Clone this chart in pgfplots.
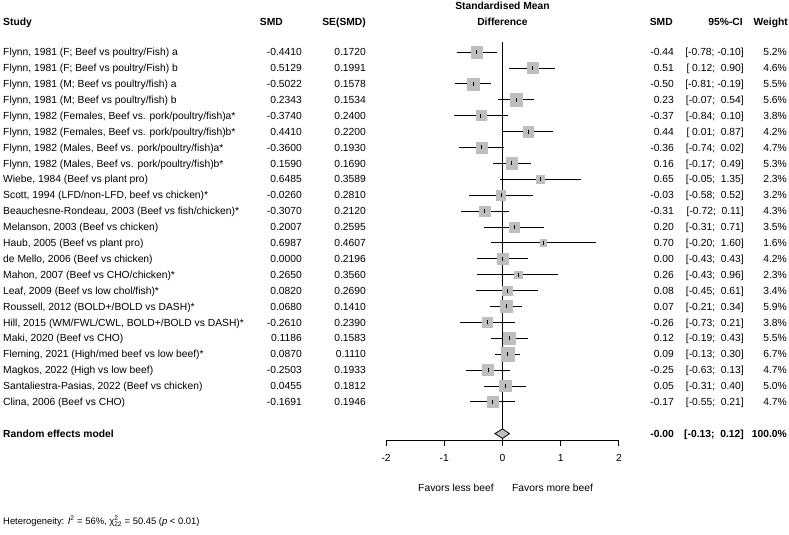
\documentclass[border=0pt]{standalone}
\usepackage{fontspec}
\setmainfont{Liberation Sans}
\usepackage{pgfplots}
\usepackage{pgfplotstable}
\pgfplotsset{compat=1.18}
\definecolor{boxgray}{RGB}{190,190,190}
\newcommand{\fs}{\fontsize{10.3bp}{12bp}\selectfont}
\newcommand{\fh}{\fontsize{9.4bp}{11bp}\selectfont}

\pgfplotstableread{
row smd lo hi w
1 -0.4410 -0.78 -0.10 5.2
2 0.5129 0.12 0.90 4.6
3 -0.5022 -0.81 -0.19 5.5
4 0.2343 -0.07 0.54 5.6
5 -0.3740 -0.84 0.10 3.8
6 0.4410 0.01 0.87 4.2
7 -0.3600 -0.74 0.02 4.7
8 0.1590 -0.17 0.49 5.3
9 0.6485 -0.05 1.35 2.3
10 -0.0260 -0.58 0.52 3.2
11 -0.3070 -0.72 0.11 4.3
12 0.2007 -0.31 0.71 3.5
13 0.6987 -0.20 1.60 1.6
14 0.0000 -0.43 0.43 4.2
15 0.2650 -0.43 0.96 2.3
16 0.0820 -0.45 0.61 3.4
17 0.0680 -0.21 0.34 5.9
18 -0.2610 -0.73 0.21 3.8
19 0.1186 -0.19 0.43 5.5
20 0.0870 -0.13 0.30 6.7
21 -0.2503 -0.63 0.13 4.7
22 0.0455 -0.31 0.40 5.0
23 -0.1691 -0.55 0.21 4.7
}\data

\newcommand{\frow}[7]{%
 \node[lt] at (axis cs:-8.582,-#1) {#2};
 \node[rt] at (axis cs:-3.445,-#1) {#3};
 \node[rt] at (axis cs:-2.345,-#1) {#4};
 \node[rt] at (axis cs:2.947,-#1) {#5};
 \node[rt] at (axis cs:4.149,-#1) {#6};
 \node[rt] at (axis cs:4.888,-#1) {#7};}

\begin{document}
\fs
\begin{tikzpicture}[
 lt/.style={anchor=base west, inner sep=0pt, yshift=-3.7bp, font=\fs},
 rt/.style={anchor=base east, inner sep=0pt, yshift=-3.7bp, font=\fs},
 ct/.style={anchor=base, inner sep=0pt, yshift=-3.7bp, font=\fs}]
\useasboundingbox (0,0) rectangle (789bp,535bp);
\begin{axis}[
 at={(386.1bp,95bp)}, anchor=south west,
 scale only axis, width=232.8bp, height=403.86bp,
 xmin=-2, xmax=2, ymin=-25.4, ymax=0,
 axis x line*=bottom, axis y line=none,
 xtick={-2,-1,0,1,2}, xticklabels={-2,-1,0,1,2},
 tick align=outside, major tick length=6bp,
 tick style={black, line width=0.8bp},
 axis line style={black, line width=0.8bp},
 xticklabel style={font=\fs, yshift=-5bp},
 clip=false,
]
\addplot[black, line width=0.8bp] coordinates {(0,-0.37) (0,-25.4)};
\addplot[draw=none, mark=none, forget plot,
 error bars/.cd, x dir=both, x explicit, error mark=none,
 error bar style={draw=black, line width=0.8bp}]
 table[x=smd, y expr=-\thisrow{row},
 x error plus expr=\thisrow{hi}-\thisrow{smd},
 x error minus expr=\thisrow{smd}-\thisrow{lo}]{\data};
\addplot[scatter, only marks, mark=square*,
 point meta=\thisrow{w},
 scatter/use mapped color={draw=boxgray, fill=boxgray},
 visualization depends on={6.65*sqrt(\thisrow{w}/6.7) \as \perpointmarksize},
 scatter/@pre marker code/.append style={/tikz/mark size=\perpointmarksize}]
 table[x=smd, y expr=-\thisrow{row}]{\data};
\addplot[only marks, mark=|, mark size=2bp, mark options={black, line width=0.8bp}]
 table[x=smd, y expr=-\thisrow{row}]{\data};
\addplot[fill=boxgray, draw=black, line width=0.8bp]
 coordinates {(-0.13,-25) (-0.00,-24.7) (0.12,-25) (-0.00,-25.3)} -- cycle;

% headers
\node[ct] at (axis cs:0,1.89) {\bfseries Standardised Mean};
\node[ct] at (axis cs:0,0.887) {\bfseries Difference};
\node[lt] at (axis cs:-8.582,0.887) {\bfseries Study};
\node[rt] at (axis cs:-3.771,0.887) {\bfseries SMD};
\node[rt] at (axis cs:-2.345,0.887) {\bfseries SE(SMD)};
\node[rt] at (axis cs:2.929,0.887) {\bfseries SMD};
\node[rt] at (axis cs:4.132,0.887) {\bfseries 95\%-CI};
\node[rt] at (axis cs:4.905,0.887) {\bfseries Weight};

\frow{1}{Flynn, 1981 (F; Beef vs poultry/Fish) a}{-0.4410}{0.1720}{-0.44}{[-0.78; -0.10]}{5.2\%}
\frow{2}{Flynn, 1981 (F; Beef vs poultry/Fish) b}{0.5129}{0.1991}{0.51}{[\ 0.12;\ \ 0.90]}{4.6\%}
\frow{3}{Flynn, 1981 (M; Beef vs poultry/fish) a}{-0.5022}{0.1578}{-0.50}{[-0.81; -0.19]}{5.5\%}
\frow{4}{Flynn, 1981 (M; Beef vs poultry/fish) b}{0.2343}{0.1534}{0.23}{[-0.07;\ \ 0.54]}{5.6\%}
\frow{5}{Flynn, 1982 (Females, Beef vs. pork/poultry/fish)a*}{-0.3740}{0.2400}{-0.37}{[-0.84;\ \ 0.10]}{3.8\%}
\frow{6}{Flynn, 1982 (Females, Beef vs. pork/poultry/fish)b*}{0.4410}{0.2200}{0.44}{[\ 0.01;\ \ 0.87]}{4.2\%}
\frow{7}{Flynn, 1982 (Males, Beef vs. pork/poultry/fish)a*}{-0.3600}{0.1930}{-0.36}{[-0.74;\ \ 0.02]}{4.7\%}
\frow{8}{Flynn, 1982 (Males, Beef vs. pork/poultry/fish)b*}{0.1590}{0.1690}{0.16}{[-0.17;\ \ 0.49]}{5.3\%}
\frow{9}{Wiebe, 1984 (Beef vs plant pro)}{0.6485}{0.3589}{0.65}{[-0.05;\ \ 1.35]}{2.3\%}
\frow{10}{Scott, 1994 (LFD/non-LFD, beef vs chicken)*}{-0.0260}{0.2810}{-0.03}{[-0.58;\ \ 0.52]}{3.2\%}
\frow{11}{Beauchesne-Rondeau, 2003 (Beef vs fish/chicken)*}{-0.3070}{0.2120}{-0.31}{[-0.72;\ \ 0.11]}{4.3\%}
\frow{12}{Melanson, 2003 (Beef vs chicken)}{0.2007}{0.2595}{0.20}{[-0.31;\ \ 0.71]}{3.5\%}
\frow{13}{Haub, 2005 (Beef vs plant pro)}{0.6987}{0.4607}{0.70}{[-0.20;\ \ 1.60]}{1.6\%}
\frow{14}{de Mello, 2006 (Beef vs chicken)}{0.0000}{0.2196}{0.00}{[-0.43;\ \ 0.43]}{4.2\%}
\frow{15}{Mahon, 2007 (Beef vs CHO/chicken)*}{0.2650}{0.3560}{0.26}{[-0.43;\ \ 0.96]}{2.3\%}
\frow{16}{Leaf, 2009 (Beef vs low chol/fish)*}{0.0820}{0.2690}{0.08}{[-0.45;\ \ 0.61]}{3.4\%}
\frow{17}{Roussell, 2012 (BOLD+/BOLD vs DASH)*}{0.0680}{0.1410}{0.07}{[-0.21;\ \ 0.34]}{5.9\%}
\frow{18}{Hill, 2015 (WM/FWL/CWL, BOLD+/BOLD vs DASH)*}{-0.2610}{0.2390}{-0.26}{[-0.73;\ \ 0.21]}{3.8\%}
\frow{19}{Maki, 2020 (Beef vs CHO)}{0.1186}{0.1583}{0.12}{[-0.19;\ \ 0.43]}{5.5\%}
\frow{20}{Fleming, 2021 (High/med beef vs low beef)*}{0.0870}{0.1110}{0.09}{[-0.13;\ \ 0.30]}{6.7\%}
\frow{21}{Magkos, 2022 (High vs low beef)}{-0.2503}{0.1933}{-0.25}{[-0.63;\ \ 0.13]}{4.7\%}
\frow{22}{Santaliestra-Pasias, 2022 (Beef vs chicken)}{0.0455}{0.1812}{0.05}{[-0.31;\ \ 0.40]}{5.0\%}
\frow{23}{Clina, 2006 (Beef vs CHO)}{-0.1691}{0.1946}{-0.17}{[-0.55;\ \ 0.21]}{4.7\%}

\node[lt] at (axis cs:-8.582,-25) {\bfseries Random effects model};
\node[rt] at (axis cs:2.947,-25) {\bfseries -0.00};
\node[rt] at (axis cs:4.149,-25) {\bfseries [-0.13;\ \ 0.12]};
\node[rt] at (axis cs:4.888,-25) {\bfseries 100.0\%};

\node[rt] at (axis cs:-0.146,-28.42) {Favors less beef};
\node[lt] at (axis cs:0.163,-28.42) {Favors more beef};

\node[lt, font=\fh] at (axis cs:-8.582,-30.5) {Heterogeneity: \textit{I}\textsuperscript{2} = 56\%, χ\rlap{\textsuperscript{2}}\textsubscript{22} = 50.45 (\textit{p} < 0.01)};
\end{axis}
\end{tikzpicture}
\end{document}
